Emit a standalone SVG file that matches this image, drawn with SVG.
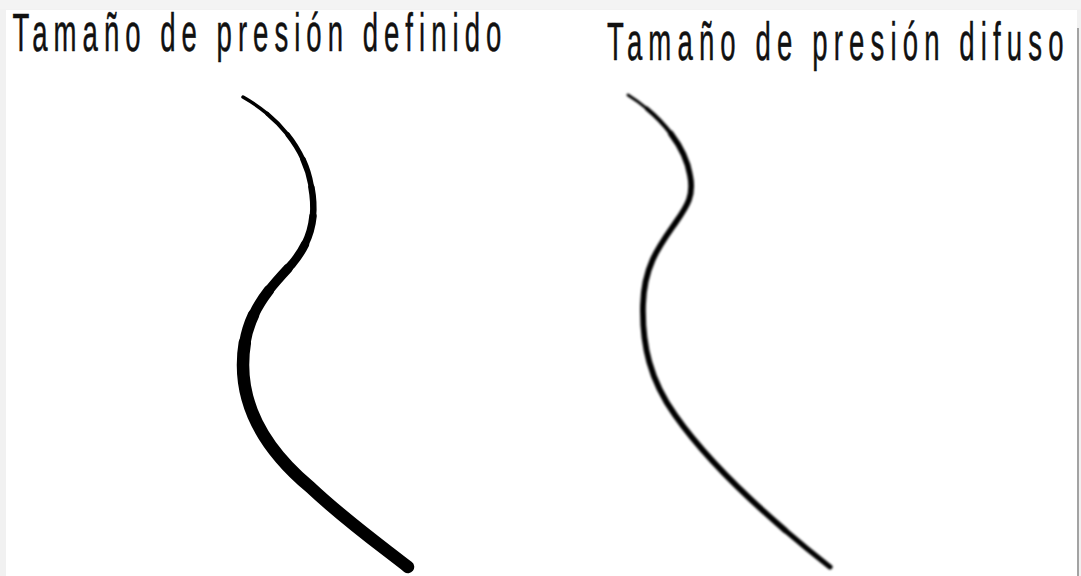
<svg xmlns="http://www.w3.org/2000/svg" xmlns:xlink="http://www.w3.org/1999/xlink" width="1081" height="576" viewBox="0 0 1081 576">
  <style>
    .title { font-family: "Liberation Sans", Arial, sans-serif; font-size: 53px; fill: #111; stroke: #111; stroke-width: 0.5; }
    .ink { fill: none; stroke: #000; stroke-linecap: round; stroke-linejoin: round; }
  </style>
  <defs>
    <path id="curveA" pathLength="100" d="M243,97 C280,118 305,150 311,185 C317,215 312,240 292,264 C268,290 243,315 243,365 C243,410 266,450 310,487 C345,520 380,545 408,567"/>
    <path id="curveB" pathLength="100" d="M628,95 C660,115 685,145 690,175 C694,195 688,205 676,222 C660,245 644,265 643,305 C642,345 650,380 675,415 C710,465 770,520 830,567"/>
    <filter id="soft" x="-10%" y="-10%" width="120%" height="120%">
      <feGaussianBlur stdDeviation="1.2"/>
    </filter>
  </defs>

  <!-- frame -->
  <rect x="0" y="0" width="1081" height="576" fill="#f1f1f1"/>
  <rect x="0" y="0" width="1081" height="9" fill="#f3f3f3"/>
  <rect x="6" y="10" width="1071" height="566" fill="#ffffff"/>
  <line x1="1078" y1="28" x2="1078" y2="576" stroke="#a3a3a3" stroke-width="2"/>

  <g id="label-definido">
    <text class="title" transform="translate(12.5,50.5) scale(0.52,1)" textLength="940" lengthAdjust="spacing">Tamaño de presión definido</text>
  </g>
  <g id="label-difuso">
    <text class="title" transform="translate(607,59.5) scale(0.52,1)" textLength="878" lengthAdjust="spacing">Tamaño de presión difuso</text>
  </g>

  <g id="stroke-definido" class="ink">
    <use xlink:href="#curveA" stroke-width="3.5" stroke-dasharray="5 300" stroke-dashoffset="0"/>
    <use xlink:href="#curveA" stroke-width="4" stroke-dasharray="5 300" stroke-dashoffset="-5"/>
    <use xlink:href="#curveA" stroke-width="4.8" stroke-dasharray="5 300" stroke-dashoffset="-10"/>
    <use xlink:href="#curveA" stroke-width="5.5" stroke-dasharray="5 300" stroke-dashoffset="-15"/>
    <use xlink:href="#curveA" stroke-width="6.5" stroke-dasharray="5 300" stroke-dashoffset="-20"/>
    <use xlink:href="#curveA" stroke-width="7.5" stroke-dasharray="5 300" stroke-dashoffset="-25"/>
    <use xlink:href="#curveA" stroke-width="8.5" stroke-dasharray="5 300" stroke-dashoffset="-30"/>
    <use xlink:href="#curveA" stroke-width="9.5" stroke-dasharray="5 300" stroke-dashoffset="-35"/>
    <use xlink:href="#curveA" stroke-width="10.5" stroke-dasharray="5 300" stroke-dashoffset="-40"/>
    <use xlink:href="#curveA" stroke-width="11.5" stroke-dasharray="5 300" stroke-dashoffset="-45"/>
    <use xlink:href="#curveA" stroke-width="12.5" stroke-dasharray="50 300" stroke-dashoffset="-50"/>
  </g>

  <g id="stroke-difuso" class="ink" filter="url(#soft)">
    <use xlink:href="#curveB" stroke-width="3" stroke-dasharray="4 300" stroke-dashoffset="0"/>
    <use xlink:href="#curveB" stroke-width="4.2" stroke-dasharray="6 300" stroke-dashoffset="-4"/>
    <use xlink:href="#curveB" stroke-width="5.8" stroke-dasharray="80 300" stroke-dashoffset="-10"/>
    <use xlink:href="#curveB" stroke-width="5.2" stroke-dasharray="10 300" stroke-dashoffset="-90"/>
  </g>
</svg>
